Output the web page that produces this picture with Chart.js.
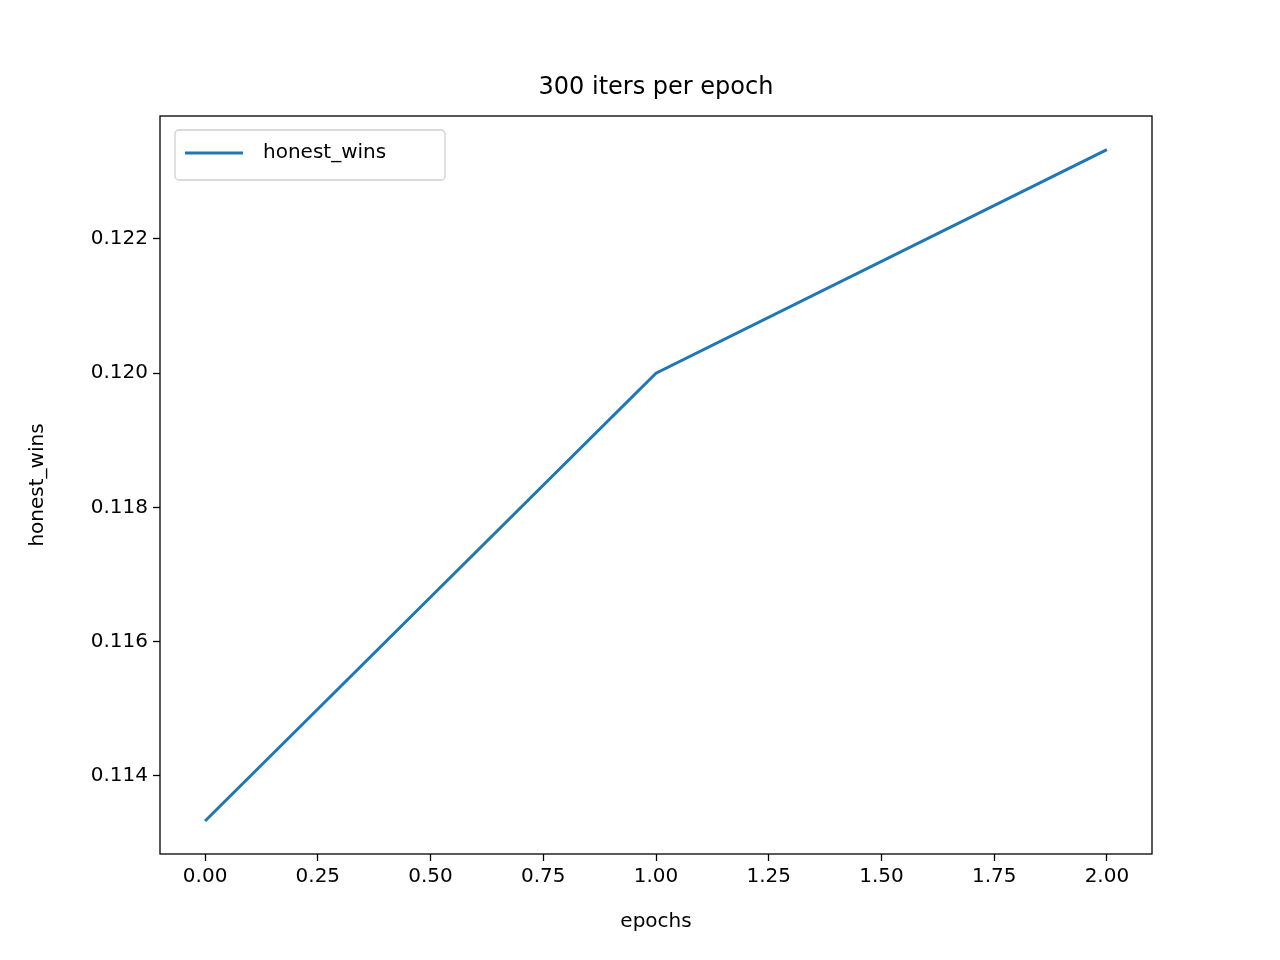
<!DOCTYPE html>
<html>
<head>
<meta charset="utf-8">
<script src="https://cdn.jsdelivr.net/npm/chart.js@4"></script>
<style>
  body { margin: 0; background: #fff; }
  #wrap { width: 1280px; height: 960px; }
</style>
</head>
<body>
<div id="wrap"><canvas id="c" width="1280" height="960"></canvas></div>
<script>
const epochs = [0, 1, 2];
const honestWins = [0.11333, 0.12, 0.12333];
const xTicks = [0, 0.25, 0.5, 0.75, 1.0, 1.25, 1.5, 1.75, 2.0];
const yTicks = [0.114, 0.116, 0.118, 0.120, 0.122];

const FONT = 'DejaVu Sans';
const BLUE = '#1f77b4';

// frame, title and legend box
const framePlugin = {
    id: 'frame',
    afterDraw(chart) {
        const { ctx, chartArea: a } = chart;
        ctx.save();
        ctx.strokeStyle = '#000';
        ctx.lineWidth = 1.3;
        ctx.strokeRect(a.left, a.top, a.right - a.left, a.bottom - a.top);

        ctx.fillStyle = '#000';
        ctx.font = '24px "' + FONT + '"';
        ctx.textAlign = 'center';
        ctx.textBaseline = 'middle';
        ctx.fillText('300 iters per epoch', (a.left + a.right) / 2, 88);

        const bx = a.left + 15, by = a.top + 14;
        ctx.beginPath();
        ctx.roundRect(bx, by, 270, 50, 4);
        ctx.fillStyle = 'rgba(255,255,255,0.8)';
        ctx.fill();
        ctx.strokeStyle = '#d0d0d0';
        ctx.lineWidth = 1.3;
        ctx.stroke();
        ctx.strokeStyle = BLUE;
        ctx.lineWidth = 3;
        ctx.beginPath();
        ctx.moveTo(bx + 10, by + 23);
        ctx.lineTo(bx + 68, by + 23);
        ctx.stroke();
        ctx.fillStyle = '#000';
        ctx.font = '20px "' + FONT + '"';
        ctx.textAlign = 'left';
        ctx.fillText('honest_wins', bx + 88, by + 23);
        ctx.restore();
    }
};

new Chart(document.getElementById('c'), {
    type: 'scatter',
    data: {
        datasets: [{
            label: 'honest_wins',
            data: epochs.map((e, i) => ({ x: e, y: honestWins[i] })),
            showLine: true,
            borderColor: BLUE,
            borderWidth: 3,
            pointRadius: 0,
            tension: 0
        }]
    },
    options: {
        responsive: false,
        animation: false,
        layout: { padding: { top: 116, right: 128, left: 22, bottom: 22 } },
        plugins: {
            legend: { display: false },
            tooltip: { enabled: false },
            title: { display: false }
        },
        scales: {
            x: {
                type: 'linear',
                min: -0.1, max: 2.1,
                afterBuildTicks: s => { s.ticks = xTicks.map(v => ({ value: v })); },
                afterFit: s => { s.height = 84; },
                grid: { drawOnChartArea: false, color: '#000', tickLength: 7, tickWidth: 1.3 },
                border: { display: false },
                ticks: { color: '#000', font: { family: FONT, size: 20 }, padding: 4, maxRotation: 0,
                         callback: v => v.toFixed(2) },
                title: { display: true, text: 'epochs', color: '#000', font: { family: FONT, size: 20 }, padding: { top: 4 } }
            },
            y: {
                min: 0.112838, max: 0.123832,
                afterBuildTicks: s => { s.ticks = yTicks.map(v => ({ value: v })); },
                afterFit: s => { s.width = 138; },
                grid: { drawOnChartArea: false, color: '#000', tickLength: 7, tickWidth: 1.3 },
                border: { display: false },
                ticks: { color: '#000', font: { family: FONT, size: 20 }, padding: 5,
                         callback: v => v.toFixed(3) },
                title: { display: true, text: 'honest_wins', color: '#000', font: { family: FONT, size: 20 }, padding: { bottom: 0 } }
            }
        }
    },
    plugins: [framePlugin]
});
</script>
</body>
</html>
